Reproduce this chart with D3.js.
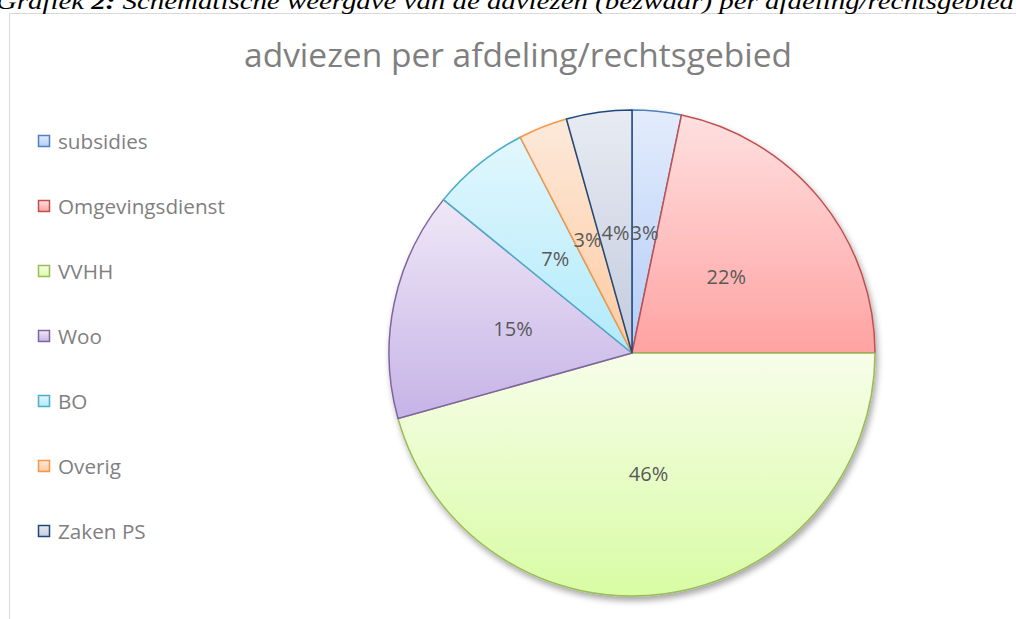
<!DOCTYPE html>
<html lang="nl">
<head>
    <meta charset="UTF-8">
    <title>adviezen per afdeling/rechtsgebied</title>
    <script src="https://d3js.org/d3.v7.min.js"></script>
    <style>
        body { margin: 0; background: #fff; }
        .caption { font-family: "Liberation Serif", serif; font-style: italic; font-size: 24px; fill: #000; }
        .title { font-family: "Open Sans", sans-serif; font-size: 33.5px; fill: #7f7f7f; }
        .legend text { font-family: "Open Sans", sans-serif; font-size: 20.7px; fill: #7f7f7f; }
        .label { font-family: "Open Sans", sans-serif; font-size: 20px; fill: #595959; }
    </style>
</head>
<body>
<script>
    // aantallen per afdeling
    var categories = ["subsidies", "Omgevingsdienst", "VVHH", "Woo", "BO", "Overig", "Zaken PS"];
    var counts = [3, 20, 42, 14, 6, 3, 4];

    // kleuren: rand, licht (boven), donker (onder)
    var strokeColors = ["#4f81bd", "#c0504d", "#9bbb59", "#8064a2", "#4bacc6", "#f79646", "#1f497d"];
    var lightColors  = ["#e3ecfc", "#ffe0e0", "#f7fde9", "#efe8f7", "#e2f7fd", "#fde9da", "#e8ebf2"];
    var darkColors   = ["#b4ccf7", "#ffa2a2", "#d8fca4", "#c6b3e7", "#b1eafb", "#fdcba1", "#c3cbde"];

    var width = 1016, height = 619;
    var cx = 632, cy = 353, r = 243;

    var svg = d3.select("body").append("svg")
        .attr("width", width)
        .attr("height", height);

    var defs = svg.append("defs");

    // schaduw onder de taart
    var shadow = defs.append("filter").attr("id", "shadow")
        .attr("x", "-20%").attr("y", "-20%").attr("width", "140%").attr("height", "140%");
    shadow.append("feDropShadow")
        .attr("dx", 2).attr("dy", 4).attr("stdDeviation", 3)
        .attr("flood-color", "#000").attr("flood-opacity", 0.35);

    categories.forEach(function(c, i) {
        var g = defs.append("linearGradient").attr("id", "grad" + i)
            .attr("x1", 0).attr("y1", 0).attr("x2", 0).attr("y2", 1);
        g.append("stop").attr("offset", "0%").attr("stop-color", lightColors[i]);
        g.append("stop").attr("offset", "100%").attr("stop-color", darkColors[i]);
    });

    // kader van de grafiek
    svg.append("rect")
        .attr("x", 9.5).attr("y", 13.5)
        .attr("width", width + 20).attr("height", height + 20)
        .attr("fill", "none").attr("stroke", "#d9d9d9").attr("stroke-width", 1);

    // onderschrift bovenaan (valt half buiten beeld, zoals in het origineel)
    var cap = svg.append("text").attr("class", "caption")
        .attr("x", -4).attr("y", 9)
        .attr("textLength", 1018).attr("lengthAdjust", "spacingAndGlyphs");
    cap.append("tspan").text("Grafiek ");
    cap.append("tspan").attr("font-weight", "bold").text("2:");
    cap.append("tspan").text(" Schematische weergave van de adviezen (bezwaar) per afdeling/rechtsgebied");

    svg.append("text").attr("class", "title")
        .attr("x", 518).attr("y", 67)
        .attr("text-anchor", "middle")
        .text("adviezen per afdeling/rechtsgebied");

    var total = d3.sum(counts);
    var pie = d3.pie().sort(null).value(function(d) { return d; });
    var arcs = pie(counts);
    var arc = d3.arc().innerRadius(0).outerRadius(r);
    var labelArc = d3.arc().innerRadius(r * 0.5).outerRadius(r * 0.5);

    var g = svg.append("g").attr("transform", "translate(" + cx + "," + cy + ")");

    g.append("g").attr("filter", "url(#shadow)")
        .selectAll("path")
        .data(arcs)
        .enter().append("path")
        .attr("d", arc)
        .attr("fill", function(d, i) { return "url(#grad" + i + ")"; })
        .attr("stroke", function(d, i) { return strokeColors[i]; })
        .attr("stroke-width", 1.5)
        .attr("stroke-linejoin", "round");

    g.selectAll(".label")
        .data(arcs)
        .enter().append("text")
        .attr("class", "label")
        .attr("transform", function(d) { return "translate(" + labelArc.centroid(d) + ")"; })
        .attr("text-anchor", "middle")
        .attr("dominant-baseline", "central")
        .text(function(d) { return Math.round(d.value / total * 100) + "%"; });

    // legenda
    var legend = svg.append("g").attr("class", "legend");
    var rows = legend.selectAll("g")
        .data(categories)
        .enter().append("g")
        .attr("transform", function(d, i) { return "translate(38," + (141 + i * 65) + ")"; });

    rows.append("rect")
        .attr("x", 0.5).attr("y", -5.5)
        .attr("width", 11).attr("height", 11)
        .attr("fill", function(d, i) { return "url(#grad" + i + ")"; })
        .attr("stroke", function(d, i) { return strokeColors[i]; })
        .attr("stroke-width", 1.5);

    rows.append("text")
        .attr("x", 20).attr("y", 0)
        .attr("dominant-baseline", "central")
        .text(function(d) { return d; });
</script>
</body>
</html>
